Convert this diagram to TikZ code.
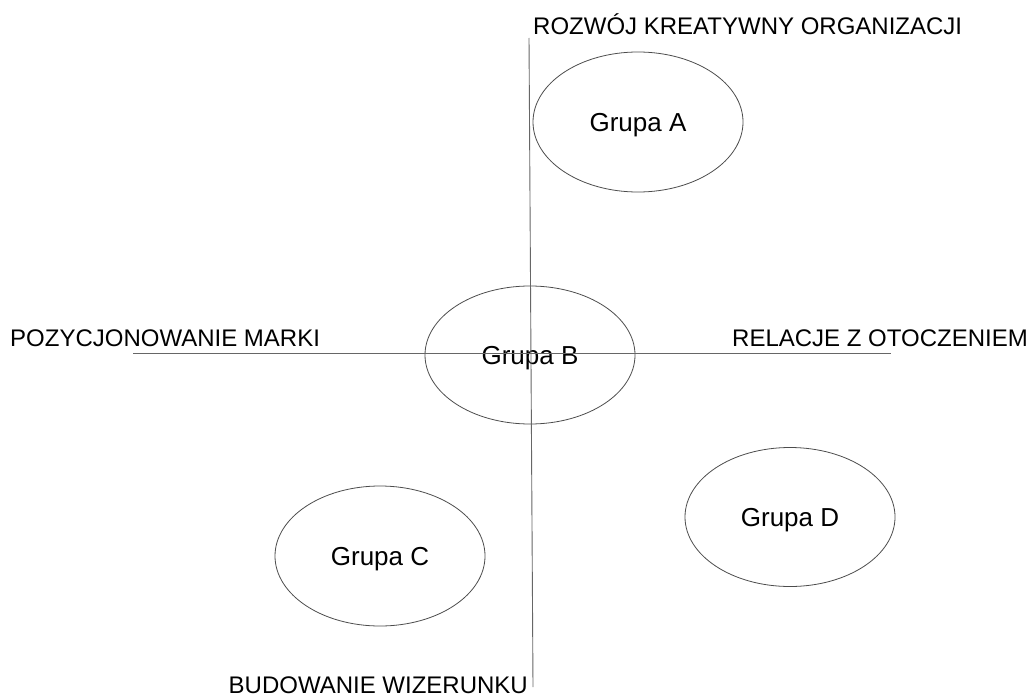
\documentclass[tikz,border=0pt]{standalone}
\usepackage{fontspec}
\setmainfont{Liberation Sans}
\usetikzlibrary{shapes.geometric}
\begin{document}
\begin{tikzpicture}[x=1pt,y=-1pt,
  grp/.style={ellipse,draw=black!70,line width=0.8pt,minimum width=210pt,minimum height=140pt,inner sep=0pt,text depth=0pt,font=\fontsize{26}{30}\selectfont},
  lbl/.style={inner sep=0pt,font=\fontsize{24}{28}\selectfont},
  axis/.style={draw=black!60,line width=0.9pt}]
\useasboundingbox (0,0) rectangle (1032,698);
\coordinate (vt) at (529,38);
\coordinate (vb) at (533,687);
\coordinate (hl) at (133,353);
\coordinate (hr) at (891,353);
\node[grp] (A) at (638,122) {Grupa A};
\node[grp,minimum height=138pt] (B) at (530,355) {Grupa B};
\node[grp] (C) at (380,556) {Grupa C};
\node[grp,minimum height=139pt] (D) at (790,517) {Grupa D};
\path[axis] (vt) -- (vb);
\path[axis] (hl) -- (hr);
\node[lbl,anchor=base west] (tN) at (533,35) {ROZWÓJ KREATYWNY ORGANIZACJI};
\node[lbl,anchor=base west] (tW) at (10,346) {POZYCJONOWANIE MARKI};
\node[lbl,anchor=base east] (tE) at (1028,346) {RELACJE Z OTOCZENIEM};
\node[lbl,anchor=base east] (tS) at (528,693) {BUDOWANIE WIZERUNKU};
\end{tikzpicture}
\end{document}
